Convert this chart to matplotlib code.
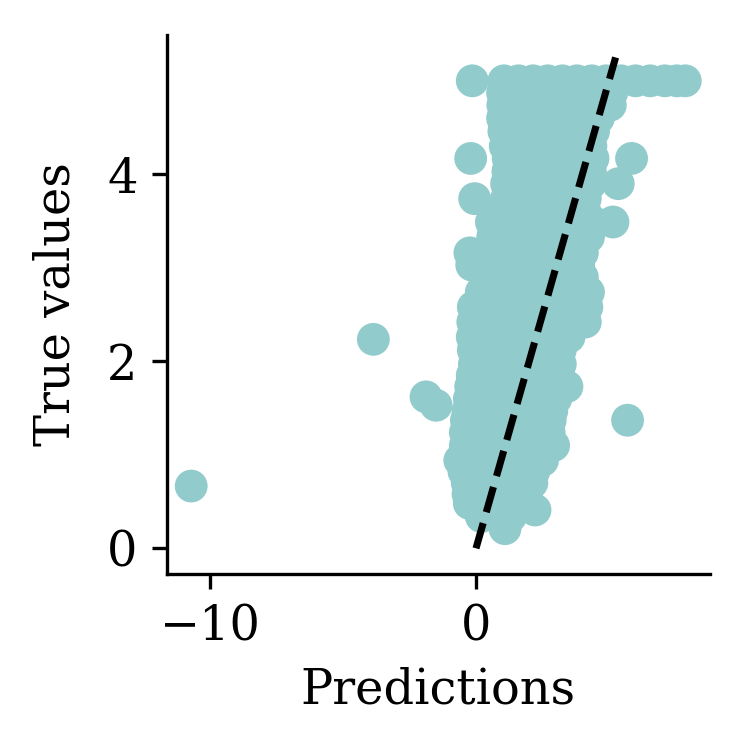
import matplotlib
matplotlib.use("Agg")
import matplotlib.pyplot as plt

plt.rcParams['font.family'] = ['DejaVu Serif']
plt.rcParams['font.size'] = 11.5

# Predictions (x) and true values (y)
pred = [
    # y = 5.00
    -0.14, 1.05, 1.6, 2.15, 2.7, 3.25, 3.8, 4.35, 4.9, 5.45, 6.0, 6.55, 7.1, 7.55, 7.87,
    # y = 4.87
    1.0, 1.55, 2.1, 2.65, 3.2, 3.75, 4.3, 4.8, 5.1,
    # y = 4.74
    1.01, 1.55, 2.1, 2.65, 3.2, 3.75, 4.3, 4.75, 5.05,
    # y = 4.60
    1.0, 1.55, 2.1, 2.65, 3.2, 3.75, 4.3, 4.6,
    # y = 4.46
    1.05, 1.6, 2.15, 2.7, 3.25, 3.8, 4.42,
    # y = 4.30
    1.1, 1.65, 2.2, 2.75, 3.3, 3.85, 4.32,
    # y = 4.17
    -0.2, 1.21, 1.75, 2.3, 2.85, 3.4, 3.95, 4.4, 5.85,
    # y = 4.03
    1.2, 1.75, 2.3, 2.85, 3.4, 3.95, 4.3,
    # y = 3.90
    1.15, 1.7, 2.25, 2.8, 3.35, 3.9, 4.3, 5.35,
    # y = 3.74
    -0.05, 1.15, 1.7, 2.25, 2.8, 3.35, 3.9, 4.11,
    # y = 3.60
    0.9, 1.45, 2.0, 2.55, 3.1, 3.65, 4.1,
    # y = 3.49
    0.58, 1.1, 1.65, 2.2, 2.75, 3.3, 3.85, 4.4, 5.15,
    # y = 3.33
    0.63, 1.15, 1.7, 2.25, 2.8, 3.35, 3.85, 4.23,
    # y = 3.16
    -0.23, 0.5, 1.05, 1.6, 2.15, 2.7, 3.25, 3.75, 4.0,
    # y = 3.03
    -0.16, 0.4, 0.95, 1.5, 2.05, 2.6, 3.15, 3.6, 3.86,
    # y = 2.90
    0.95, 1.45, 2.0, 2.55, 3.1, 3.65, 4.0,
    # y = 2.74
    0.2, 0.75, 1.3, 1.85, 2.4, 2.95, 3.5, 3.95, 4.23,
    # y = 2.58
    -0.1, 0.45, 1.0, 1.55, 2.1, 2.65, 3.2, 3.75, 4.17,
    # y = 2.42
    -0.12, 0.4, 0.95, 1.5, 2.05, 2.6, 3.15, 3.7, 4.11,
    # y = 2.26
    -0.14, 0.4, 0.95, 1.5, 2.05, 2.6, 3.1, 3.5,
    # y = 2.12
    -0.1, 0.45, 1.0, 1.55, 2.1, 2.65, 3.17,
    # y = 1.97
    -0.06, 0.5, 1.05, 1.6, 2.15, 2.7, 3.17,
    # y = 1.85
    -0.14, 0.4, 0.95, 1.5, 2.05, 2.6, 3.1,
    # y = 1.73
    -0.2, 0.35, 0.9, 1.45, 2.0, 2.55, 3.0, 3.42,
    # y = 1.60
    -0.25, 0.3, 0.85, 1.4, 1.95, 2.5, 3.0,
    # y = 1.47
    -0.3, 0.25, 0.8, 1.35, 1.9, 2.45, 2.85,
    # y = 1.37
    -0.36, 0.2, 0.75, 1.3, 1.85, 2.4, 2.79,
    # y = 1.24
    -0.4, 0.15, 0.7, 1.25, 1.8, 2.35, 2.75,
    # y = 1.10
    -0.4, 0.15, 0.7, 1.25, 1.8, 2.35, 2.92,
    # y = 0.94
    -0.61, -0.05, 0.5, 1.05, 1.6, 2.15, 2.5,
    # y = 0.82
    -0.45, 0.1, 0.65, 1.2, 1.75, 2.17,
    # y = 0.70
    -0.33, 0.2, 0.75, 1.3, 1.85, 2.1,
    # y = 0.58
    -0.3, 0.25, 0.8, 1.35, 1.9,
    # y = 0.48
    -0.25, 0.3, 0.85, 1.4, 1.9,
    # y = 0.41
    2.22,
    # y = 0.34
    0.2, 0.75, 1.3,
    # y = 0.21
    1.09,
    # outliers
    -10.71, -3.86, -1.88, -1.50, 5.70,
]

true = (
    [5.00] * 15 + [4.87] * 9 + [4.74] * 9 + [4.60] * 8 + [4.46] * 7 + [4.30] * 7
    + [4.17] * 9 + [4.03] * 7 + [3.90] * 8 + [3.74] * 8 + [3.60] * 7 + [3.49] * 9
    + [3.33] * 8 + [3.16] * 9 + [3.03] * 9 + [2.90] * 7 + [2.74] * 9 + [2.58] * 9
    + [2.42] * 9 + [2.26] * 8 + [2.12] * 7 + [1.97] * 7 + [1.85] * 7 + [1.73] * 8
    + [1.60] * 7 + [1.47] * 7 + [1.37] * 7 + [1.24] * 7 + [1.10] * 7 + [0.94] * 7
    + [0.82] * 6 + [0.70] * 6 + [0.58] * 5 + [0.48] * 5 + [0.41] * 1 + [0.34] * 3
    + [0.21] * 1
    + [0.666, 2.235, 1.62, 1.53, 1.37]
)

ref_line = [0.0, 5.25]

fig = plt.figure(figsize=(743 / 300, 756 / 300), dpi=300)
ax = fig.add_axes([0.2244, 0.2407, 0.9556 - 0.2244, 0.9537 - 0.2407])

ax.scatter(pred, true, s=62, color='#92CBCB', edgecolor='none', linewidth=0, zorder=2)
ax.plot(ref_line, ref_line, color='black', linestyle='--', linewidth=1.7, zorder=3)

ax.set_xlim(-11.63, 8.80)
ax.set_ylim(-0.275, 5.49)
ax.set_xticks([-10, 0])
ax.set_yticks([0, 2, 4])
ax.spines['top'].set_visible(False)
ax.spines['right'].set_visible(False)
ax.set_xlabel('Predictions')
ax.set_ylabel('True values', labelpad=6.5)

fig.savefig('out.png', dpi=300)
